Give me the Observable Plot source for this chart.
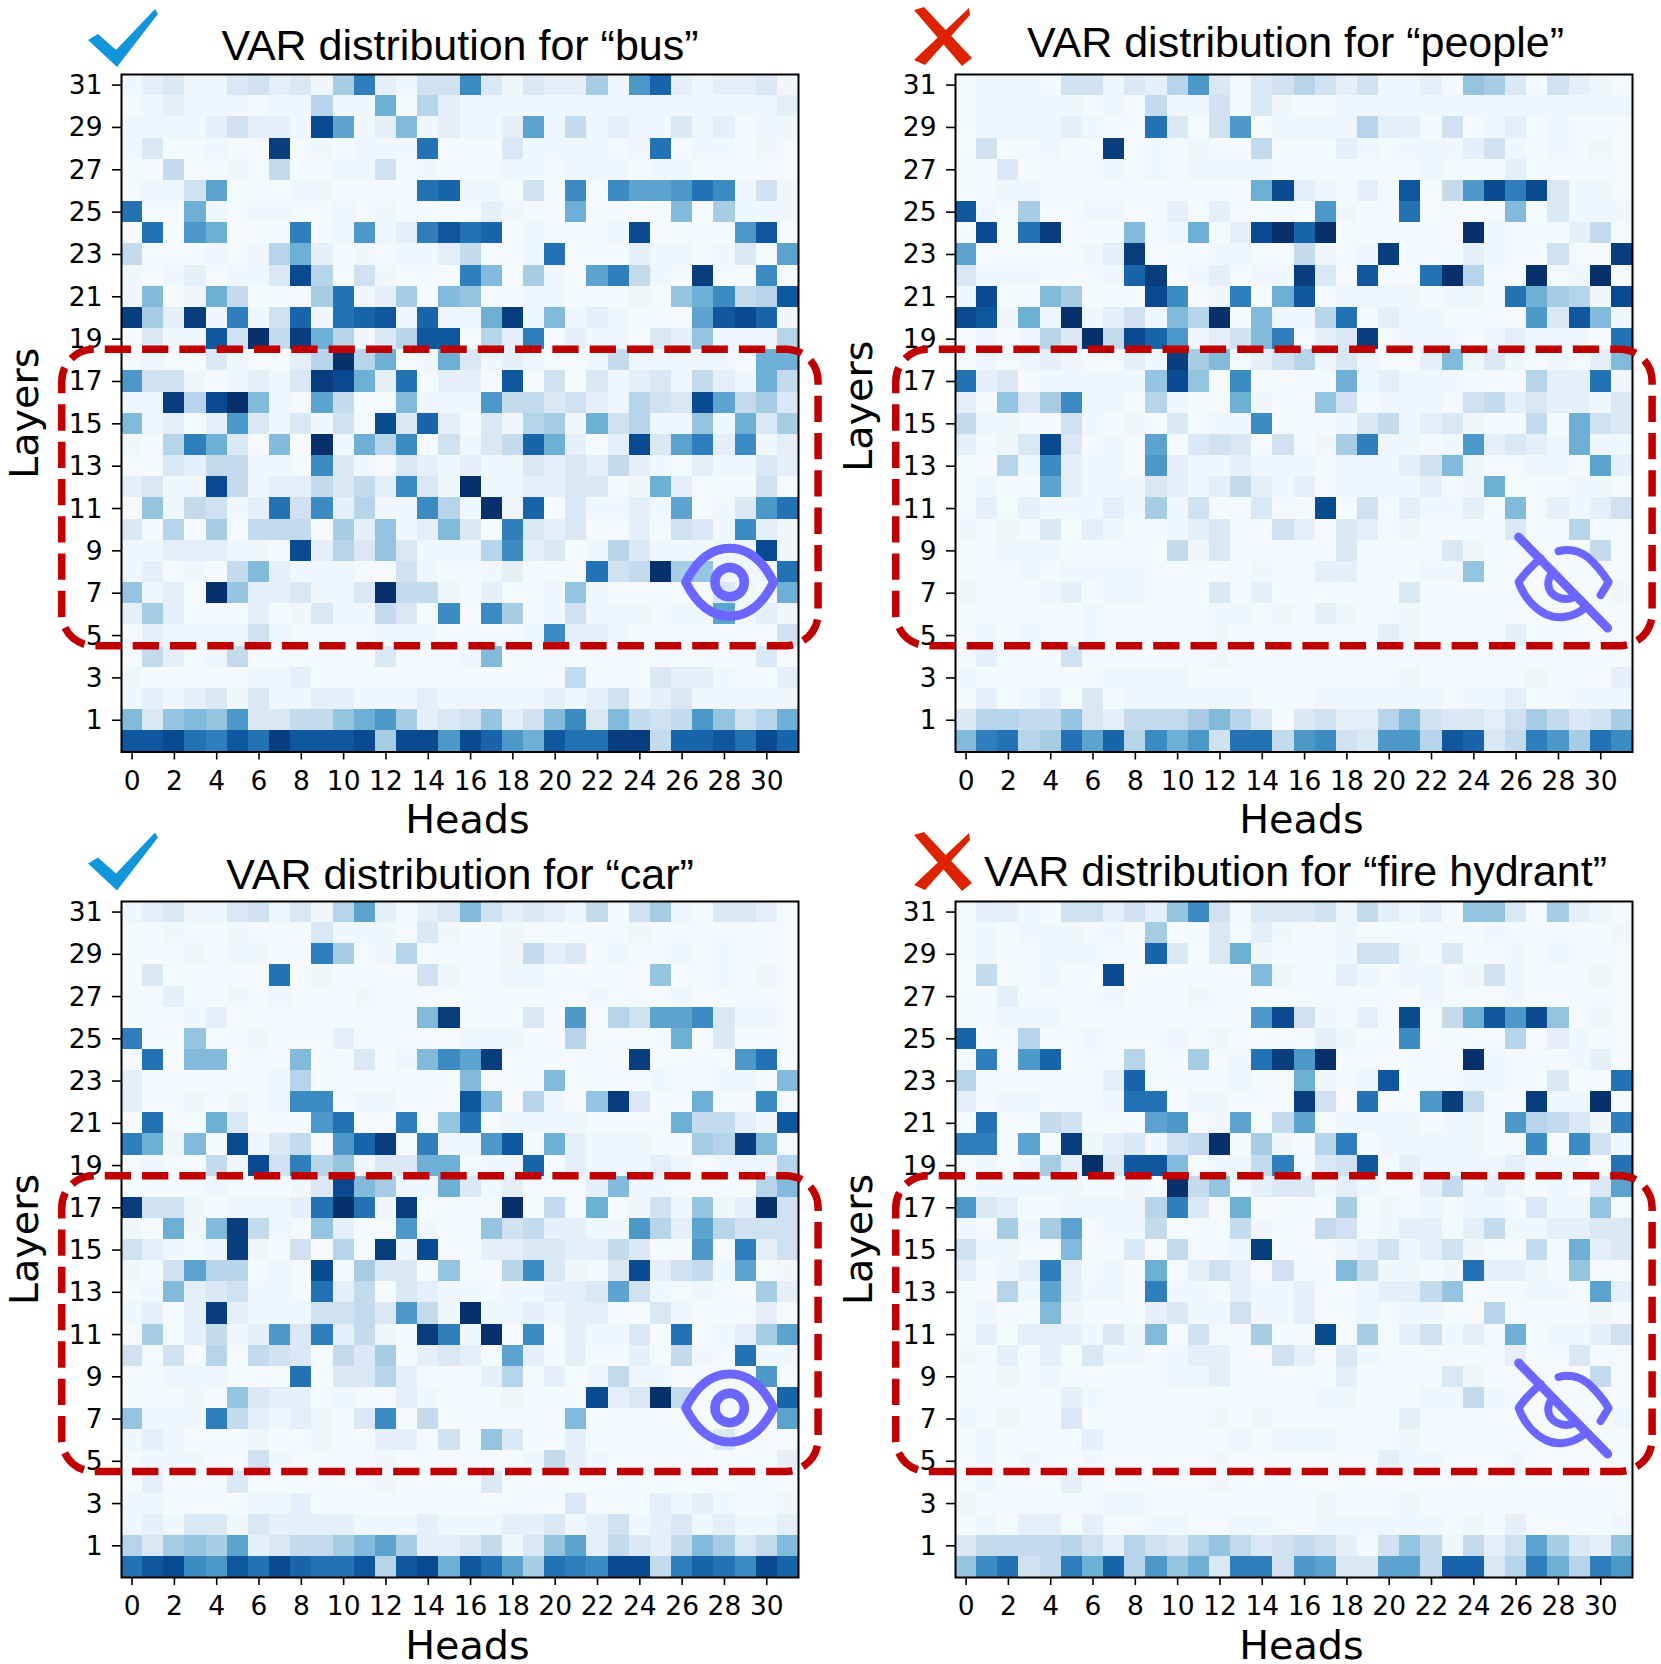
<!DOCTYPE html>
<html>
<head>
<meta charset="utf-8">
<script src="https://cdn.jsdelivr.net/npm/d3@7"></script>
<script src="https://cdn.jsdelivr.net/npm/@observablehq/plot@0.6"></script>
<style>
html,body{margin:0;padding:0;background:#fff}
#page{position:relative;width:1661px;height:1664px;overflow:hidden;background:#fff}
#page svg{position:absolute;overflow:visible;background:transparent}
</style>
</head>
<body>
<div id="page"></div>
<script>
const heads = d3.range(0, 32);
const layers = d3.range(31, -1, -1);
const headTicks = d3.range(0, 32, 2);
const layerTicks = d3.range(1, 32, 2);

// Each row lists heads 0..31; rows run from layer 31 down to layer 0. Values are 0..20.
const busRows = [
[1,2,3,1,1,3,4,2,3,1,7,14,2,1,4,4,13,3,1,3,2,2,7,1,12,16,2,1,2,2,3,1],
[0,1,2,1,1,1,0,1,1,6,1,1,10,0,6,2,1,1,1,1,1,1,1,1,1,1,1,1,1,1,1,2],
[1,1,1,1,2,4,2,2,1,18,11,1,2,9,1,2,1,1,2,11,1,5,1,2,1,1,3,1,2,0,1,1],
[1,3,0,0,1,0,0,19,0,1,0,1,1,1,15,0,0,0,3,1,1,1,1,0,1,15,0,1,1,0,1,0],
[0,0,5,0,0,1,0,5,0,0,1,1,4,0,1,0,0,0,1,1,0,1,1,1,0,1,1,0,0,0,0,0],
[0,1,1,4,11,0,0,0,1,1,0,0,0,0,15,16,1,1,0,4,0,13,0,13,11,11,12,15,13,1,4,1],
[15,0,0,10,1,0,1,1,0,0,1,0,1,0,0,0,0,2,1,0,0,10,0,0,0,0,9,0,7,1,1,1],
[0,15,0,12,10,0,0,0,14,0,1,12,1,2,14,17,15,16,0,1,0,0,0,1,18,0,0,0,0,12,17,0],
[5,0,0,0,1,0,1,6,10,2,0,1,0,1,1,2,5,0,0,1,15,0,0,0,2,1,1,0,1,3,0,11],
[1,0,1,2,0,1,1,3,18,6,0,4,1,0,0,0,14,9,0,7,1,0,11,14,5,1,0,19,0,0,13,0],
[1,9,0,1,10,5,0,0,0,7,15,1,2,7,0,9,8,0,0,1,1,0,0,0,1,0,8,10,13,5,6,17],
[19,7,2,19,1,14,1,4,16,1,15,16,17,1,16,1,1,10,19,1,9,1,2,1,0,0,0,11,17,18,16,1],
[0,3,1,1,17,4,20,5,19,10,6,1,3,6,17,17,0,6,2,14,0,2,1,1,0,3,2,8,1,1,1,6],
[0,1,0,0,3,1,0,0,2,6,20,6,10,0,1,10,3,1,2,1,0,0,1,5,1,1,1,1,1,0,10,10],
[12,4,4,1,0,1,2,1,3,19,18,10,2,15,0,2,2,0,17,0,4,0,3,1,2,3,1,5,2,1,10,5],
[1,1,19,6,18,20,9,1,0,11,5,0,0,9,1,1,1,12,5,5,3,4,2,1,6,4,3,18,11,5,7,3],
[9,1,2,0,2,12,3,1,3,1,4,0,18,3,16,2,0,3,1,6,7,1,10,4,6,1,1,8,1,10,3,7],
[1,0,6,14,10,3,0,9,0,20,1,10,6,13,0,4,1,3,5,16,10,2,0,2,18,3,11,14,2,13,1,2],
[0,0,3,2,5,5,1,1,0,13,3,1,0,3,2,1,2,1,1,3,2,3,2,5,2,1,0,2,1,1,3,2],
[2,3,1,1,18,5,1,2,2,5,3,5,2,13,3,1,20,1,1,2,2,3,3,0,1,10,2,0,0,0,4,0],
[0,8,1,5,4,1,2,15,4,13,2,6,1,1,13,6,1,20,1,16,0,3,1,1,2,1,11,0,1,3,12,15],
[3,0,6,0,7,0,5,5,5,0,7,2,8,1,2,9,3,0,14,3,2,3,0,0,2,0,4,3,1,13,2,1],
[1,1,2,2,2,1,1,0,18,2,6,3,8,3,1,1,1,6,13,2,3,0,1,6,3,1,1,1,1,1,18,1],
[1,2,0,1,0,5,9,2,1,1,1,0,0,4,1,0,0,1,2,0,0,0,15,4,5,20,7,8,1,1,1,15],
[8,1,2,0,20,8,2,2,3,1,1,3,20,5,5,1,0,2,0,0,1,8,1,0,0,0,0,0,3,1,0,10],
[2,7,2,0,0,0,2,0,1,3,1,1,5,3,0,13,0,13,7,0,1,4,1,1,1,0,1,1,11,1,2,1],
[0,2,1,1,1,1,4,1,0,0,0,0,1,1,1,0,0,0,0,1,13,2,2,1,0,0,0,0,0,0,0,4],
[0,5,2,0,1,5,0,0,0,0,0,0,3,0,0,0,1,9,0,0,0,0,0,0,0,0,0,0,0,0,3,0],
[1,0,0,0,0,0,1,1,2,0,0,0,0,0,0,0,0,0,0,0,0,5,0,0,0,3,2,2,1,0,0,2],
[1,2,1,2,3,1,3,1,1,2,2,1,1,1,2,1,1,1,1,1,2,1,2,4,1,2,3,1,1,1,1,1],
[9,3,8,9,8,12,3,3,5,5,8,10,12,7,2,3,4,8,2,4,9,13,3,9,5,4,5,12,8,4,6,10],
[17,17,18,15,14,17,15,19,17,17,17,18,7,18,18,12,18,16,12,10,17,15,15,19,19,5,16,16,17,15,18,16]
];
const peopleRows = [
[0,1,1,1,0,4,4,1,3,2,6,12,3,0,3,4,6,4,2,4,1,1,2,0,8,7,3,0,4,2,1,0],
[0,1,1,1,1,1,0,1,0,5,1,1,4,0,3,1,0,0,1,1,1,1,1,1,1,1,1,1,1,1,1,1],
[0,1,1,1,1,2,1,0,0,15,3,0,4,12,0,1,1,1,1,6,2,2,0,4,0,1,2,0,1,0,0,0],
[0,4,0,0,1,0,0,19,0,1,0,1,0,0,5,0,0,0,2,1,0,1,1,1,2,4,1,0,1,0,1,0],
[0,0,3,0,0,0,0,1,0,1,0,1,1,1,1,0,0,0,0,0,0,0,1,0,0,0,2,0,0,0,0,0],
[0,0,1,1,0,0,0,0,0,0,0,0,0,0,10,18,2,1,0,2,0,17,0,5,12,18,14,18,3,1,1,0],
[17,1,0,7,0,0,1,1,0,0,2,0,2,0,0,0,0,12,1,0,0,15,0,0,0,0,9,0,3,1,1,1],
[0,18,0,15,19,0,0,0,9,0,1,10,0,2,18,20,16,20,0,0,0,0,0,0,20,1,0,0,0,2,5,0],
[11,0,0,0,0,0,1,2,19,0,0,0,1,1,0,0,5,1,0,1,19,0,0,0,2,1,0,0,4,0,0,19],
[3,1,1,1,0,0,0,1,16,19,0,1,2,0,1,1,19,3,0,17,0,0,15,20,6,0,0,20,0,1,20,0],
[1,18,0,0,9,7,0,0,0,18,13,0,1,14,0,10,17,0,1,1,1,1,0,1,1,0,15,10,7,6,1,18],
[18,17,1,10,1,20,1,2,4,1,9,6,20,0,9,1,1,6,15,0,2,1,1,0,0,0,0,12,3,17,9,1],
[0,1,0,1,6,3,20,5,18,16,12,1,2,4,9,14,0,2,3,19,0,1,1,1,0,1,2,1,1,1,0,15],
[0,1,0,1,2,1,0,0,2,1,19,7,9,0,2,4,6,1,3,1,0,0,2,9,1,3,1,0,1,0,2,9],
[15,2,3,0,1,1,1,1,1,8,18,8,0,13,0,0,0,0,10,1,2,1,1,1,0,0,0,6,2,2,15,1],
[2,0,8,3,7,13,1,1,0,6,1,0,0,10,1,0,0,8,4,0,1,1,1,0,4,5,2,3,2,2,1,3],
[5,1,1,0,0,4,1,0,1,0,3,0,1,1,13,0,0,0,1,3,5,1,2,3,1,0,0,5,0,10,4,3],
[2,0,1,3,18,3,0,1,0,11,0,3,4,3,0,4,0,1,7,14,1,1,0,1,12,2,3,2,1,10,1,1],
[0,0,6,1,13,2,1,1,0,12,2,1,1,2,1,1,1,0,1,1,1,2,4,9,1,0,0,1,1,0,11,2],
[0,1,0,0,11,2,1,1,1,3,2,1,2,5,2,1,2,0,1,1,1,1,2,0,1,10,0,0,0,1,1,0],
[0,2,0,2,1,1,1,2,1,7,1,4,0,0,3,0,0,18,0,4,0,2,1,1,2,0,9,0,2,1,2,4],
[1,0,1,0,3,0,2,1,0,0,1,2,3,0,0,4,2,0,3,2,0,1,0,0,0,0,3,0,0,6,0,0],
[0,0,1,1,1,0,0,0,0,0,5,1,3,0,0,0,0,0,3,0,0,0,0,3,1,0,0,0,0,0,5,0],
[0,0,0,1,0,1,1,1,1,0,0,0,0,0,1,0,0,2,2,0,0,0,1,1,8,0,0,0,0,0,0,0],
[1,0,0,0,1,2,0,1,1,0,0,0,3,0,2,0,0,0,0,0,0,3,0,0,0,0,0,0,0,0,0,1],
[0,0,0,0,0,0,1,0,0,0,0,0,1,1,0,1,0,2,1,0,0,1,0,0,0,0,0,0,0,0,0,0],
[0,1,0,1,0,0,1,0,0,0,0,0,1,0,0,0,0,0,0,0,2,1,0,0,0,0,2,0,0,0,0,0],
[0,2,0,0,0,4,0,0,0,0,0,0,1,0,0,0,0,0,0,0,0,0,0,0,0,0,0,0,0,0,0,0],
[1,0,0,0,0,0,0,1,1,1,1,0,0,0,0,0,0,0,0,0,0,1,0,0,0,0,0,1,0,0,0,2],
[0,2,0,1,2,0,3,0,1,1,1,1,1,1,0,0,0,1,1,1,1,1,1,0,1,1,2,0,0,1,1,1],
[3,6,6,5,5,8,3,2,5,5,5,7,9,6,3,0,3,4,2,2,6,9,4,3,3,2,4,7,5,3,4,7],
[9,14,15,6,7,15,11,16,6,13,10,12,4,15,15,5,12,13,4,3,12,12,6,17,16,3,5,14,12,7,15,13]
];
const carRows = [
[1,2,3,1,1,3,4,1,3,1,6,11,2,0,2,3,9,4,2,3,2,1,5,0,4,7,1,0,3,3,2,0],
[0,0,1,0,0,1,0,0,0,3,1,1,1,0,3,1,0,0,1,0,0,0,0,0,1,0,0,0,0,0,0,0],
[0,0,0,1,0,1,1,0,0,14,7,0,1,6,0,0,0,0,1,5,2,3,0,1,0,0,1,0,1,0,0,0],
[0,3,0,0,0,0,0,15,0,1,0,0,0,0,4,1,0,0,1,1,0,0,0,0,0,8,0,0,1,0,1,0],
[0,0,2,0,0,1,0,1,0,0,0,1,0,0,0,0,0,0,0,0,0,0,1,0,0,0,1,0,0,0,0,0],
[0,0,0,1,2,0,0,0,0,0,0,0,0,0,9,19,0,0,0,3,0,12,0,6,4,11,11,13,3,1,1,0],
[14,0,0,8,0,0,1,0,0,0,2,0,0,0,0,0,1,1,1,0,0,6,0,0,0,0,10,0,3,0,0,0],
[0,15,0,9,9,0,0,0,9,0,0,3,0,1,9,13,11,19,0,0,0,0,0,0,19,0,0,0,0,12,15,0],
[2,0,0,0,0,0,0,1,6,0,0,0,0,0,0,0,9,0,0,0,9,0,0,0,0,1,0,0,1,1,0,9],
[2,0,0,1,0,1,0,1,13,13,0,1,1,0,0,0,17,9,0,6,1,0,8,19,3,0,0,10,0,0,13,0],
[0,15,0,0,10,3,0,0,0,12,15,0,0,14,0,8,15,0,1,1,1,1,0,0,0,0,10,5,5,2,1,17],
[14,10,1,9,0,18,1,3,5,0,12,16,19,0,14,1,1,12,17,0,10,2,1,1,1,0,0,7,6,19,9,0],
[0,1,0,0,5,1,18,4,14,6,8,1,3,3,10,10,0,1,1,16,0,2,1,1,1,2,1,0,1,1,1,6],
[0,0,0,0,1,0,0,0,1,3,18,9,7,1,1,10,3,1,2,0,0,0,2,9,1,1,0,0,0,0,6,9],
[19,4,4,1,0,1,1,1,2,15,20,15,1,19,0,0,0,0,20,0,5,0,10,0,1,4,1,8,1,2,20,4],
[1,0,10,1,9,19,5,1,0,8,2,0,0,12,1,0,0,8,4,5,2,2,1,1,12,6,2,11,6,4,4,4],
[4,2,1,0,1,19,1,0,4,0,6,0,19,1,18,0,0,2,2,3,3,2,2,5,3,0,0,12,0,14,2,4],
[1,0,4,11,6,6,0,1,0,18,0,7,3,3,0,8,0,0,6,13,3,1,0,3,18,2,4,5,1,11,0,1],
[0,1,9,2,3,4,1,1,0,15,2,5,0,3,2,1,1,0,1,1,2,2,3,11,4,1,0,1,0,0,7,2],
[1,2,0,2,19,2,1,1,1,4,4,5,3,12,5,1,20,1,1,2,1,2,2,0,0,3,1,0,0,0,2,0],
[0,7,0,2,5,1,2,12,3,14,2,5,1,0,19,14,1,20,0,13,0,2,1,1,3,0,15,0,1,2,7,11],
[4,0,4,0,6,0,5,4,3,0,5,3,7,0,2,3,2,0,11,2,0,2,0,0,2,0,5,1,0,15,1,1],
[0,0,1,1,1,0,0,0,15,0,3,3,6,2,0,0,0,2,6,0,2,0,1,5,1,1,0,0,0,0,12,0],
[0,0,0,1,0,8,3,2,2,0,1,0,0,2,1,0,0,0,1,0,0,0,18,2,3,20,5,0,0,0,0,16],
[8,1,1,1,14,5,2,1,2,1,0,3,13,0,5,0,0,0,0,0,0,9,0,0,0,0,0,0,0,0,0,11],
[1,2,1,0,0,0,1,0,0,1,0,0,2,2,0,4,0,8,3,0,0,2,0,0,0,0,0,0,3,0,0,0],
[0,1,1,1,0,0,4,1,0,0,0,0,1,0,0,0,0,0,0,1,5,2,1,0,0,0,0,0,0,0,0,2],
[0,2,0,0,0,3,0,0,0,0,0,0,1,0,0,0,0,3,0,0,0,0,0,0,0,0,0,0,0,0,0,0],
[1,1,0,0,0,0,1,1,2,0,0,0,0,0,0,0,0,0,0,0,0,3,0,0,0,2,1,2,1,0,0,1],
[1,2,1,3,3,1,3,2,2,2,2,1,1,1,2,1,1,1,2,2,3,1,2,4,1,2,3,1,2,1,1,2],
[6,3,7,8,7,11,2,3,5,5,7,9,11,7,2,2,3,5,1,3,8,11,2,5,3,2,5,9,7,3,5,9],
[15,17,18,13,12,17,15,18,16,15,15,17,6,17,18,10,17,15,11,7,15,14,13,18,18,5,14,16,15,13,18,16]
];
const hydrantRows = [
[0,2,2,1,0,4,4,2,4,2,8,13,4,0,3,3,3,4,1,5,2,1,2,0,8,8,3,0,7,2,1,0],
[0,1,0,1,1,1,0,1,0,7,0,0,3,0,2,1,0,0,1,0,0,0,0,0,0,1,0,0,0,0,0,1],
[0,1,0,0,1,1,1,0,0,16,3,0,3,10,1,0,0,0,1,4,4,1,0,3,0,0,1,0,1,0,0,0],
[0,5,0,0,1,0,0,18,0,0,0,0,0,0,9,1,0,0,2,1,0,1,1,0,1,4,1,0,0,0,1,0],
[0,0,2,0,0,0,0,1,0,0,0,1,0,0,0,0,0,0,0,0,0,0,1,0,0,0,1,0,0,0,0,0],
[0,0,1,1,1,0,0,0,0,0,0,0,0,0,12,18,4,1,0,2,0,18,0,5,10,17,12,18,8,0,1,0],
[16,0,0,6,0,0,1,0,0,0,1,0,1,0,0,0,0,2,1,0,0,13,0,0,0,0,6,0,2,1,0,0],
[0,14,0,12,16,0,0,0,6,0,0,7,0,1,15,19,12,20,0,0,0,0,0,0,20,1,0,0,0,1,2,0],
[6,0,0,0,0,0,0,2,16,0,0,0,0,1,0,0,10,1,0,1,17,0,0,0,1,1,0,0,3,0,0,15],
[2,0,1,1,0,0,0,1,15,15,0,1,1,0,0,0,19,4,0,15,0,0,12,19,5,0,0,19,1,1,20,0],
[0,15,0,0,5,4,0,0,0,11,12,0,1,11,0,5,11,0,1,1,1,1,0,1,1,0,12,6,5,3,1,14],
[14,14,0,11,0,19,1,2,3,1,4,5,20,0,7,1,0,6,14,0,1,1,1,1,1,0,0,13,0,13,4,1],
[0,1,0,1,7,2,20,3,17,17,9,0,1,1,5,14,0,3,4,17,0,2,1,1,1,1,2,1,1,1,0,15],
[0,1,1,1,1,1,0,0,1,0,20,5,8,0,2,3,3,1,2,1,0,0,2,5,1,2,1,0,1,0,3,11],
[12,3,2,0,0,1,1,1,1,6,14,3,0,10,0,0,0,0,7,0,1,0,1,0,1,1,0,3,1,1,8,0],
[1,0,7,1,7,11,0,1,1,5,0,0,0,5,1,0,0,5,4,0,1,2,2,0,2,5,1,1,2,2,3,3],
[4,1,1,0,0,9,0,0,3,0,5,0,0,1,19,0,0,0,1,2,4,1,2,4,1,0,0,5,0,10,2,3],
[2,0,1,2,14,2,0,1,0,10,0,2,4,2,0,4,0,0,9,5,1,1,0,1,15,2,2,1,0,8,0,0],
[0,0,6,1,11,2,1,1,0,14,1,1,0,2,1,1,2,0,0,1,2,2,5,8,0,0,0,1,1,0,11,2],
[0,1,0,0,9,1,0,0,0,2,3,1,1,4,1,1,2,0,0,1,0,1,1,0,0,6,0,0,0,0,1,0],
[0,2,0,2,2,2,1,3,1,9,0,4,0,0,7,0,0,18,0,7,0,2,4,1,2,0,10,0,1,1,2,4],
[1,0,2,0,2,0,3,1,1,0,1,2,2,0,0,4,2,0,3,1,0,0,0,0,0,0,2,0,0,3,0,0],
[0,0,1,0,1,0,0,0,0,0,1,1,2,0,0,0,0,0,2,0,0,0,0,3,1,0,0,0,0,0,5,0],
[0,0,0,0,0,2,1,0,0,0,0,0,0,0,0,0,0,1,1,0,0,0,1,1,5,1,0,0,0,0,0,0],
[1,0,1,0,0,3,0,0,0,0,0,0,1,0,1,0,0,0,0,0,0,2,0,0,0,0,0,0,0,0,0,1],
[0,1,0,0,0,0,2,0,0,0,0,0,0,1,0,1,1,1,0,0,0,1,0,0,0,0,0,0,0,0,0,0],
[0,1,0,1,0,0,1,0,0,0,0,0,1,0,0,0,0,0,0,0,2,1,1,0,0,0,1,0,0,0,0,0],
[0,1,0,0,0,2,0,0,0,0,0,0,1,0,0,0,0,0,0,0,0,0,0,0,0,0,0,0,0,0,0,0],
[1,0,0,0,0,0,0,1,1,0,0,0,0,0,0,0,0,1,0,0,0,1,0,0,0,0,0,0,0,0,0,0],
[0,1,0,2,2,0,2,0,0,1,1,0,0,1,1,0,0,1,1,1,1,1,1,0,1,0,2,0,0,0,0,1],
[3,5,5,5,5,6,4,2,6,4,3,6,8,5,3,4,5,4,2,0,4,8,5,1,5,2,4,11,7,3,2,8],
[8,13,15,4,5,14,10,16,6,12,8,10,3,14,14,4,12,11,3,3,11,11,5,16,16,3,6,14,10,6,14,12]
];

const panels = [
  {rows: busRows, title: "VAR distribution for “bus”", left: 0, top: 0, h: 830, mt: 74, mb: 78.5, ml: 121, seen: true,
   tx: 0, ty: 15, ly: 0, iy: 0},
  {rows: peopleRows, title: "VAR distribution for “people”", left: 830, top: 0, h: 830, mt: 74, mb: 78.5, ml: 125, seen: false,
   tx: 1.5, ty: 18, ly: -7, iy: 0},
  {rows: carRows, title: "VAR distribution for “car”", left: 0, top: 830, h: 834, mt: 71, mb: 87, ml: 121, seen: true,
   tx: 0, ty: 13, ly: 0, iy: -3.5},
  {rows: hydrantRows, title: "VAR distribution for “fire hydrant”", left: 830, top: 830, h: 834, mt: 71, mb: 87, ml: 125, seen: false,
   tx: 1.5, ty: 16, ly: 0, iy: -2}
];

const RED = "#c00000", EYE = "#6b66ff", CHECK = "#1296db", CROSS = "#dd2200";
const lightEnd = d3.scaleLinear().domain([0, 0.05, 0.1, 0.15, 1]).range([0.015, 0.04, 0.09, 0.145, 1]);

function overlay(p) {
  return (index, scales, values, dims) => {
    const step = (dims.width - dims.marginLeft - dims.marginRight) / heads.length;
    const vstep = (dims.height - dims.marginTop - dims.marginBottom) / layers.length;
    const X = (h) => scales.x(0) + (h + 0.5) * step;
    const Y = (l) => scales.y(31) + (31 - l + 0.5) * vstep;
    const g = d3.create("svg:g").attr("fill", "none");
    // dashed rounded box: layers 5..18, reaching past the frame on both sides
    const x0 = X(-3.3), x1 = X(32.45), y0 = Y(18.5), y1 = Y(4.5), r = 32;
    g.append("path")
      .attr("d", `M${x0 + r},${y0}H${x1 - r}A${r},${r} 0 0 1 ${x1},${y0 + r}V${y1 - r}A${r},${r} 0 0 1 ${x1 - r},${y1}H${x0 + r}A${r},${r} 0 0 1 ${x0},${y1 - r}V${y0 + r}A${r},${r} 0 0 1 ${x0 + r},${y0}Z`)
      .attr("stroke", RED).attr("stroke-width", 7.5).attr("stroke-dasharray", "26.3 11").attr("stroke-dashoffset", 26.3);
    // eye icon centred on head 28.27, layer 7.5
    const eye = g.append("g").attr("transform", `translate(${X(28.27)},${Y(7.5)})`)
      .attr("stroke", EYE).attr("stroke-linecap", "round").attr("stroke-linejoin", "round");
    if (p.seen) {
      eye.append("path").attr("stroke-width", 9)
        .attr("d", "M-44,0C-32,-24 -16,-34 0,-34C16,-34 32,-24 44,0C32,24 16,34 0,34C-16,34 -32,24 -44,0Z");
      eye.append("circle").attr("r", 14.7).attr("stroke-width", 9.5);
    } else {
      eye.attr("stroke-width", 8);
      eye.append("path").attr("d", "M-23,-24C-32,-16 -40,-8 -45,0C-40,14 -30,26 -18,32C-5,38 10,35 21,26");
      eye.append("path").attr("d", "M-5,-31C6,-34 16,-31 24,-25C33,-17 40,-8 45,0L37,13");
      eye.append("path").attr("d", "M-13,-7C-18,2 -15,11 -6,15C0,18 6,17 11,15");
      eye.append("path").attr("d", "M-45,-45L44,46").attr("stroke-width", 9);
    }
    const icon = g.append("g").attr("transform", `translate(${X(-0.5)},${Y(31.5) + p.iy})`).attr("stroke", "none");
    if (p.seen) {
      icon.append("path").attr("fill", CHECK).attr("d", "M-33,-34L-23,-40L-5,-24L34,-65L37,-60L-4,-7Z");
    } else {
      icon.append("path").attr("fill", CROSS).attr("d", "M-41,-64L-31,-67L17,-16L7,-8Z");
      icon.append("path").attr("fill", CROSS).attr("d", "M14,-66L15,-59L-30,-9L-41,-14Z");
    }
    return g.node();
  };
}

function panel(p) {
  const cells = p.rows.flatMap((row, i) => row.map((value, j) => ({head: heads[j], layer: layers[i], value})));
  const svg = Plot.plot({
    width: 830,
    height: p.h,
    marginTop: p.mt,
    marginBottom: p.mb,
    marginLeft: p.ml,
    marginRight: 830 - p.ml - 677,
    style: {background: "transparent", overflow: "visible"},
    x: {type: "band", domain: heads, padding: 0, round: false},
    y: {type: "band", domain: layers, padding: 0, round: false},
    color: {type: "linear", domain: [0, 20], interpolate: (t) => d3.interpolateBlues(lightEnd(t))},
    marks: [
      Plot.cell(cells, {x: "head", y: "layer", fill: "value", shapeRendering: "crispEdges"}),
      Plot.frame({stroke: "#000", strokeWidth: 2}),
      Plot.axisX({ticks: headTicks, tickSize: 8, tickPadding: 11, label: null, fontSize: 26.5, fontFamily: "DejaVu Sans", stroke: "#000", strokeWidth: 1.6, fill: "#000", anchor: "bottom"}),
      Plot.axisY({ticks: layerTicks, tickSize: 9, text: null, label: null, stroke: "#000", strokeWidth: 1.6, anchor: "left"}),
      Plot.axisY({ticks: layerTicks, tickSize: 0, tickPadding: 19, dy: 0.5, label: null, fontSize: 26.5, fontFamily: "DejaVu Sans", fill: "#000", anchor: "left"}),
      Plot.text([p.title], {frameAnchor: "top", dx: p.tx, dy: -p.ty, lineAnchor: "bottom", fontSize: 43, fontFamily: "Liberation Sans", fill: "#000"}),
      Plot.text(["Heads"], {frameAnchor: "bottom", dx: 7.5, dy: 81, lineAnchor: "bottom", fontSize: 39.7, fontFamily: "DejaVu Sans", fill: "#000"}),
      Plot.text(["Layers"], {frameAnchor: "left", textAnchor: "middle", dx: -96, dy: p.ly, rotate: -90, fontSize: 39.7, fontFamily: "DejaVu Sans", fill: "#000"}),
      overlay(p)
    ]
  });
  svg.style.left = p.left + "px";
  svg.style.top = p.top + "px";
  return svg;
}

const page = document.getElementById("page");
panels.forEach((p) => page.appendChild(panel(p)));
</script>
</body>
</html>
